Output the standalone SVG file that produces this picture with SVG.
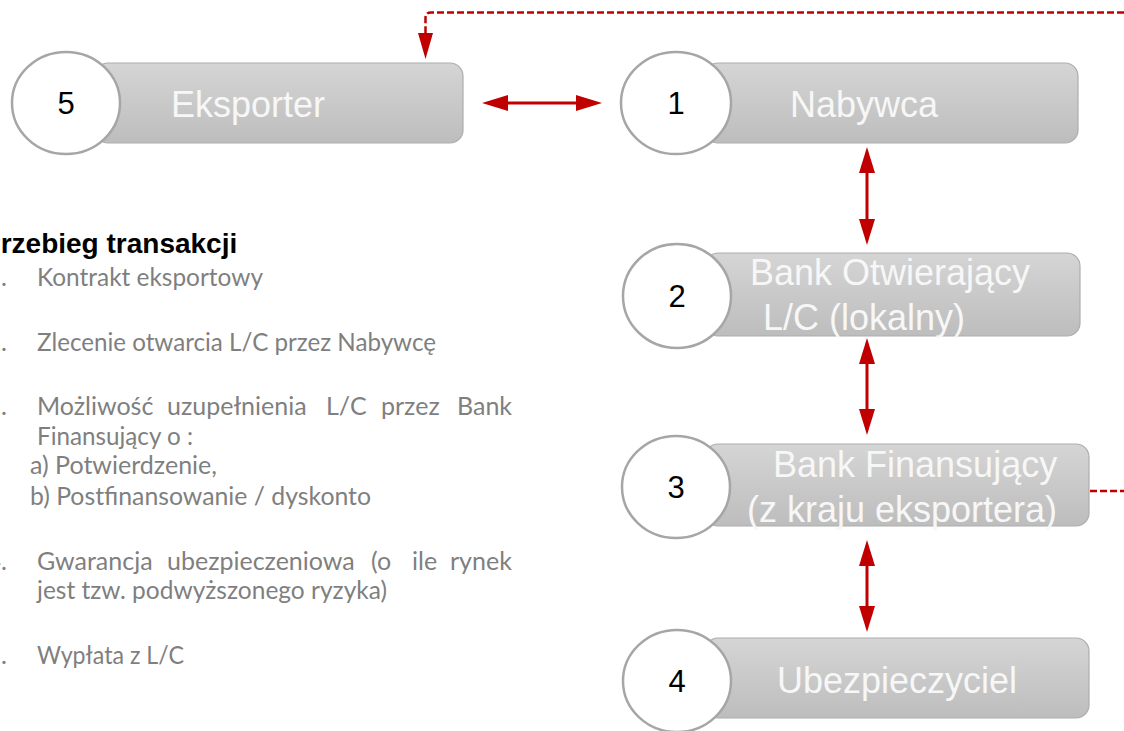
<svg xmlns="http://www.w3.org/2000/svg" width="1124" height="731" viewBox="0 0 1124 731">
<defs>
<linearGradient id="g" x1="0" y1="0" x2="0" y2="1">
<stop offset="0" stop-color="#d5d5d5"/>
<stop offset="1" stop-color="#bdbdbd"/>
</linearGradient>
<marker id="ah" markerUnits="userSpaceOnUse" markerWidth="26" markerHeight="16" refX="0" refY="8" orient="auto-start-reverse">
<path d="M0,0 L26,8 L0,16 z" fill="#c00000"/>
</marker>
<marker id="ahd" markerUnits="userSpaceOnUse" markerWidth="26" markerHeight="16" refX="0" refY="8" orient="auto">
<path d="M0,0.5 L26,8 L0,15.5 z" fill="#c00000"/>
</marker>
<style>
.bar{fill:url(#g);stroke:#adadad;stroke-width:1.2}
.circ{fill:#ffffff;stroke:#a6a6a6;stroke-width:2.5}
.num{font-family:"Liberation Sans",Arial,sans-serif;font-size:31px;fill:#000000;text-anchor:middle}
.lbl{font-family:"Liberation Sans",Arial,sans-serif;font-size:36px;fill:#f7f7f7}
.arr{fill:none;stroke:#c00000;stroke-width:3}
.dash{fill:none;stroke:#c00000;stroke-width:2.5;stroke-dasharray:7 3}
.hd{font-family:"Liberation Sans",Arial,sans-serif;font-size:28px;font-weight:bold;fill:#000000}
.li{font-family:Lato,"Open Sans",sans-serif;font-size:25px;fill:#7f7f7f}
.ln{font-family:Lato,"Open Sans",sans-serif;font-size:25px;fill:#7f7f7f;text-anchor:end}
</style>
</defs>
<rect width="1124" height="731" fill="#ffffff"/>

<g id="connectors">
<path class="arr" d="M508,103 H576" marker-start="url(#ah)" marker-end="url(#ah)"/>
<path class="arr" d="M867,173 V219" marker-start="url(#ah)" marker-end="url(#ah)"/>
<path class="arr" d="M867,364 V409" marker-start="url(#ah)" marker-end="url(#ah)"/>
<path class="arr" d="M867,566 V606" marker-start="url(#ah)" marker-end="url(#ah)"/>
<path class="dash" d="M1124,12.5 H431 Q425.5,12.5 425.5,18 V33" marker-end="url(#ahd)"/>
<path class="dash" d="M1090,491 H1124"/>
</g>

<g id="node5">
<rect class="bar" x="95" y="63" width="368" height="80" rx="13"/>
<ellipse class="circ" cx="66" cy="103" rx="54" ry="51"/>
<text class="num" x="66" y="114">5</text>
<text class="lbl" x="171" y="117">Eksporter</text>
</g>

<g id="node1">
<rect class="bar" x="705" y="63" width="373" height="80" rx="13"/>
<ellipse class="circ" cx="676" cy="103" rx="55" ry="51"/>
<text class="num" x="676" y="114">1</text>
<text class="lbl" x="790" y="117">Nabywca</text>
</g>

<g id="node2">
<rect class="bar" x="705" y="253" width="375" height="83" rx="13"/>
<ellipse class="circ" cx="677" cy="296" rx="54" ry="52"/>
<text class="num" x="677" y="307">2</text>
<text class="lbl" x="750" y="285">Bank Otwierający</text>
<text class="lbl" x="763" y="330">L/C (lokalny)</text>
</g>

<g id="node3">
<rect class="bar" x="705" y="444" width="384" height="82" rx="13"/>
<ellipse class="circ" cx="676" cy="487" rx="54" ry="51"/>
<text class="num" x="676" y="498">3</text>
<text class="lbl" x="773" y="477">Bank Finansujący</text>
<text class="lbl" x="747" y="522">(z kraju eksportera)</text>
</g>

<g id="node4">
<rect class="bar" x="705" y="638" width="384" height="80" rx="13"/>
<ellipse class="circ" cx="677" cy="681" rx="54" ry="51"/>
<text class="num" x="677" y="692">4</text>
<text class="lbl" x="777" y="693">Ubezpieczyciel</text>
</g>

<g id="legend">
<text class="hd" x="-18" y="253">Przebieg transakcji</text>
<text class="ln" x="7" y="286">1.</text>
<text class="li" x="37" y="286" textLength="226" lengthAdjust="spacingAndGlyphs">Kontrakt eksportowy</text>
<text class="ln" x="7" y="351">2.</text>
<text class="li" x="37" y="351" textLength="399" lengthAdjust="spacingAndGlyphs">Zlecenie otwarcia L/C przez Nabywcę</text>
<text class="ln" x="7" y="415">3.</text>
<text class="li" y="415"><tspan x="37">Możliwość</tspan><tspan x="167">uzupełnienia</tspan><tspan x="326">L/C</tspan><tspan x="381">przez</tspan><tspan x="457">Bank</tspan></text>
<text class="li" x="37" y="445" textLength="156" lengthAdjust="spacingAndGlyphs">Finansujący o :</text>
<text class="li" x="30" y="474" textLength="187" lengthAdjust="spacingAndGlyphs">a) Potwierdzenie,</text>
<text class="li" x="30" y="505" textLength="341" lengthAdjust="spacingAndGlyphs">b) Postfinansowanie / dyskonto</text>
<text class="ln" x="7" y="570">4.</text>
<text class="li" y="570"><tspan x="37">Gwarancja</tspan><tspan x="167">ubezpieczeniowa</tspan><tspan x="371">(o</tspan><tspan x="412">ile</tspan><tspan x="450">rynek</tspan></text>
<text class="li" x="37" y="599" textLength="350" lengthAdjust="spacingAndGlyphs">jest tzw. podwyższonego ryzyka)</text>
<text class="ln" x="7" y="664">5.</text>
<text class="li" x="37" y="664" textLength="147" lengthAdjust="spacingAndGlyphs">Wypłata z L/C</text>
</g>
</svg>
